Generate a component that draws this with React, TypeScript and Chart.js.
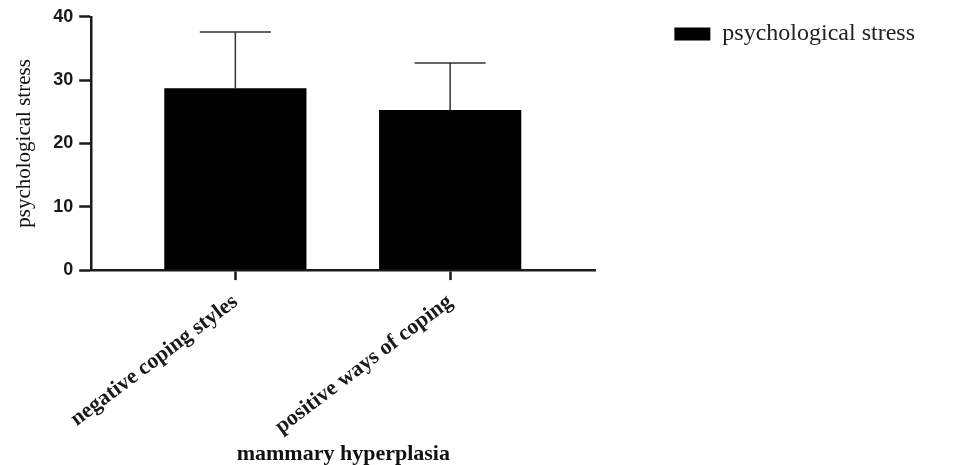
import React, { useEffect, useRef } from "react";
import { Chart, registerables } from "chart.js";

Chart.register(...registerables);

// ---- data ----
const categories = ["negative coping styles", "positive ways of coping"];
const categoryPositions = [0, 1];
const means = [28.7, 25.3];
const sds = [8.9, 7.4];
const yTickValues = [0, 10, 20, 30, 40];
const seriesName = "psychological stress";
const xTitle = "mammary hyperplasia";
const yTitle = "psychological stress";

const INK = "#1a1a1a";

const errorBarPlugin = {
  id: "errorBars",
  afterDatasetsDraw(chart: any) {
    const meta = chart.getDatasetMeta(0);
    const yScale = chart.scales.y;
    const ctx = chart.ctx;
    ctx.save();
    ctx.strokeStyle = "#333";
    ctx.lineWidth = 1.5;
    meta.data.forEach((bar: any, i: number) => {
      const top = yScale.getPixelForValue(means[i] + sds[i]);
      const half = bar.width / 4;
      ctx.beginPath();
      ctx.moveTo(bar.x, bar.y);
      ctx.lineTo(bar.x, top);
      ctx.moveTo(bar.x - half, top);
      ctx.lineTo(bar.x + half, top);
      ctx.stroke();
    });
    ctx.restore();
  },
};

export default function App() {
  const ref = useRef<HTMLCanvasElement | null>(null);
  useEffect(() => {
    document.body.style.margin = "0";
    const canvas = ref.current;
    if (!canvas) return;
    const chart = new Chart(canvas, {
      type: "bar",
      data: {
        datasets: [
          {
            label: seriesName,
            data: categoryPositions.map((x, i) => ({ x, y: means[i] })),
            backgroundColor: "#000",
            borderColor: "#000",
            borderWidth: 0,
            categoryPercentage: 1,
            barPercentage: 0.662,
          },
        ],
      },
      options: {
        responsive: false,
        animation: false,
        devicePixelRatio: 1,
        layout: { padding: { left: 12, right: 28, top: 12, bottom: 0 } },
        plugins: {
          tooltip: { enabled: false },
          legend: {
            position: "right",
            align: "start",
            maxWidth: 400,
            labels: {
              boxWidth: 36,
              boxHeight: 13,
              padding: 10,
              color: "#222",
              font: { family: "Liberation Serif", size: 24 },
            },
          },
        },
        scales: {
          x: {
            type: "linear",
            min: -0.671,
            max: 1.676,
            offset: false,
            afterBuildTicks: (scale: any) => {
              scale.ticks = categoryPositions.map((v) => ({ value: v }));
            },
            ticks: {
              autoSkip: false,
              minRotation: 37,
              maxRotation: 37,
              padding: 9,
              color: "#1a1a1a",
              font: { family: "Liberation Serif", size: 22, weight: "bold" },
              callback: (v: any) => categories[Math.round(Number(v))] ?? "",
            },
            grid: {
              display: true,
              drawOnChartArea: false,
              drawTicks: true,
              tickLength: 10,
              tickWidth: 2.5,
              tickColor: INK,
              offset: false,
            },
            border: { display: true, color: INK, width: 2.5 },
            title: {
              display: true,
              text: xTitle,
              color: "#111",
              font: { family: "Liberation Serif", size: 22, weight: "bold", lineHeight: 1.0 },
              padding: { top: -6, bottom: 0 },
            },
          },
          y: {
            min: 0,
            max: 40,
            afterBuildTicks: (scale: any) => {
              scale.ticks = yTickValues.map((v) => ({ value: v }));
            },
            ticks: {
              padding: 6,
              color: INK,
              font: { family: "Liberation Sans", size: 18, weight: "bold" },
            },
            grid: {
              display: true,
              drawOnChartArea: false,
              drawTicks: true,
              tickLength: 12,
              tickWidth: 2.5,
              tickColor: INK,
            },
            border: { display: true, color: INK, width: 2.5 },
            title: {
              display: true,
              text: yTitle,
              color: "#111",
              font: { family: "Liberation Serif", size: 21 },
              padding: { top: 0, bottom: 10 },
            },
          },
          gap: {
            position: "right",
            display: true,
            afterFit: (scale: any) => {
              scale.width = 69;
            },
            ticks: { display: false },
            grid: { display: false },
            border: { display: false },
          },
        },
      } as any,
      plugins: [errorBarPlugin],
    });
    return () => chart.destroy();
  }, []);
  return (
    <div style={{ width: 953, height: 465 }}>
      <canvas ref={ref} width={953} height={465} />
    </div>
  );
}
